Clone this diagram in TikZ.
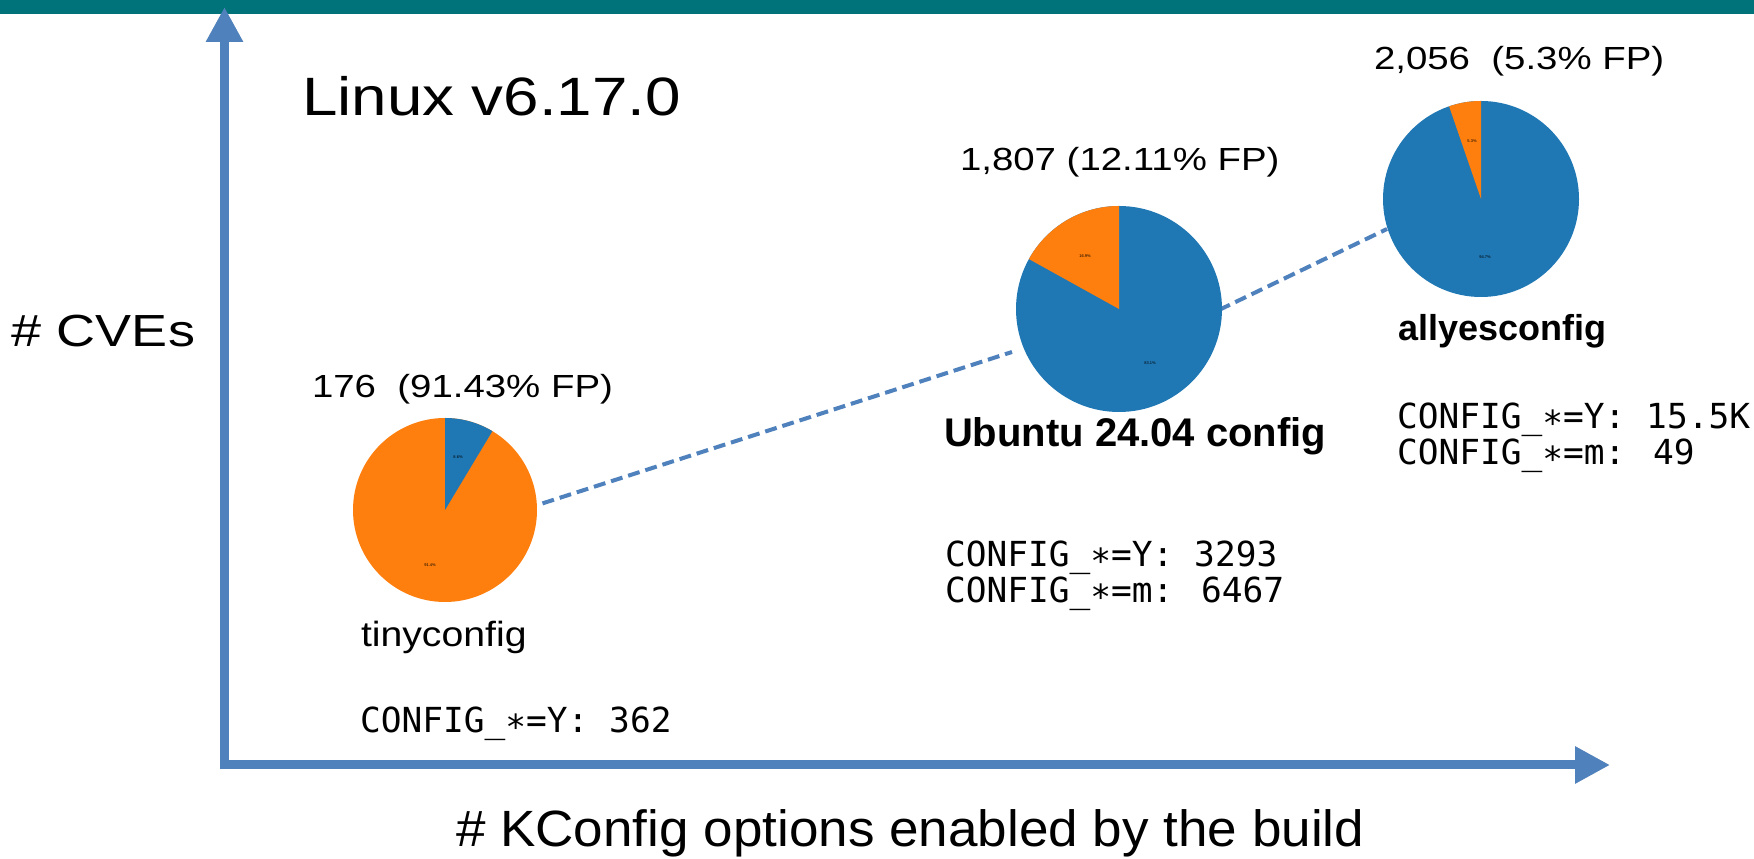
\documentclass[tikz,border=0pt]{standalone}
\usepackage{fontspec}
\setmainfont{Liberation Sans}
\newfontfamily\lblfont[FakeStretch=1.2]{Liberation Sans}
\newfontfamily\namefont[FakeStretch=1.12]{Liberation Sans}
\newfontfamily\titlefont[FakeStretch=1.18]{Liberation Sans}
\newfontfamily\axfont[FakeStretch=1.04]{Liberation Sans}
\newfontfamily\monofont{DejaVu Sans Mono}
\usetikzlibrary{arrows.meta}
\definecolor{barteal}{HTML}{00737A}
\definecolor{axisblue}{HTML}{4F81BD}
\definecolor{pieblue}{HTML}{1F77B4}
\definecolor{pieorange}{HTML}{FF7F0E}
\tikzset{
  axisline/.style={draw=axisblue, line width=9pt, -{Triangle[length=35pt,width=35pt]}},
  axisshadow/.style={draw=black, opacity=0.12, line width=9pt, -{Triangle[length=35pt,width=35pt]}},
  trend/.style={draw=axisblue, line width=4pt, dash pattern=on 12pt off 6pt},
  txt/.style={anchor=base west, inner sep=0pt, outer sep=0pt},
  lbl/.style={txt, font=\lblfont\fontsize{32}{38}\selectfont},
  boldlbl/.style={txt, font=\bfseries\fontsize{40}{48}\selectfont},
  codelbl/.style={txt, font=\monofont\fontsize{34.5}{40}\selectfont},
  pct/.style={inner sep=0pt, font=\fontsize{4}{5}\selectfont},
  pie/.style={circle, inner sep=0pt, outer sep=0pt, minimum size=#1},
}
\begin{document}
\begin{tikzpicture}[x=1pt,y=1pt]
\useasboundingbox (0,0) rectangle (1754,859);
\fill[white] (0,0) rectangle (1754,859);
% top bar
\fill[barteal] (0,845) rectangle (1754,859);

% axes
\coordinate (origin) at (224.5,94);
\coordinate (ybot) at (224.5,89.5);
\coordinate (ytip) at (224.5,852);
\coordinate (xleft) at (220,94);
\coordinate (xtip) at (1610,94);
\draw[axisshadow, shift={(2,-4)}] (ybot) -- (ytip);
\draw[axisshadow, shift={(2,-4)}] (xleft) -- (xtip);
\draw[axisline] (ybot) -- (ytip);
\draw[axisline] (xleft) -- (xtip);

% trend lines
\coordinate (d1a) at (542.5,355.6);
\coordinate (d1b) at (1012,507);
\coordinate (d2a) at (1219,549);
\coordinate (d2b) at (1387,630);
\draw[trend] (d1a) -- (d1b);
\draw[trend] (d2a) -- (d2b);

% pies
\node[pie=184pt, fill=pieorange] (tiny) at (445,349) {};
\fill[pieblue] (tiny.center) -- ++(90:92) arc[start angle=90, end angle=59, radius=92] -- cycle;
\node[pct] (tinyb) at (458,402) {8.6\%};
\node[pct] (tinyo) at (430,294) {91.4\%};

\node[pie=206pt, fill=pieblue] (ubuntu) at (1119,550) {};
\fill[pieorange] (ubuntu.center) -- ++(90:103) arc[start angle=90, end angle=151, radius=103] -- cycle;
\node[pct] (ubuntuo) at (1085,603) {16.9\%};
\node[pct] (ubuntub) at (1150,496) {83.1\%};

\node[pie=196pt, fill=pieblue] (allyes) at (1481,660) {};
\fill[pieorange] (allyes.center) -- ++(90:98) arc[start angle=90, end angle=109, radius=98] -- cycle;
\node[pct] (allyeso) at (1472,718) {5.3\%};
\node[pct] (allyesb) at (1485,602) {94.7\%};

% texts
\node[txt, font=\titlefont\fontsize{54}{62}\selectfont] (title) at (302,743) {Linux v6.17.0};
\node[txt, font=\lblfont\fontsize{45}{54}\selectfont] (ylabel) at (12,512.3) {\# CVEs};
\node[txt, font=\axfont\fontsize{51}{60}\selectfont] (xlabel) at (456,12.2) {\# KConfig options enabled by the build};

\node[lbl] (tinycnt) at (312,461.3) {176\ \ (91.43\% FP)};
\node[txt, font=\namefont\fontsize{35}{42}\selectfont] (tinyname) at (361,212.3) {tinyconfig};
\node[codelbl] (tinyy) at (360,126) {CONFIG\_∗=Y: 362};

\node[lbl] (ubcnt) at (960,688) {1,807 (12.11\% FP)};
\node[boldlbl] (ubname) at (944,412) {Ubuntu 24.04 config};
\node[codelbl] (uby) at (945,292) {CONFIG\_∗=Y: 3293};
\node[codelbl] (ubm) at (945,256) {CONFIG\_∗=m: 6467};

\node[lbl] (aycnt) at (1374,789.7) {2,056\ \ (5.3\% FP)};
\node[txt, font=\bfseries\fontsize{36}{44}\selectfont] (ayname) at (1398,518) {allyesconfig};
\node[codelbl] (ayy) at (1397,430) {CONFIG\_∗=Y: 15.5K};
\node[codelbl] (aym) at (1397,394) {CONFIG\_∗=m: 49};
\end{tikzpicture}
\end{document}
